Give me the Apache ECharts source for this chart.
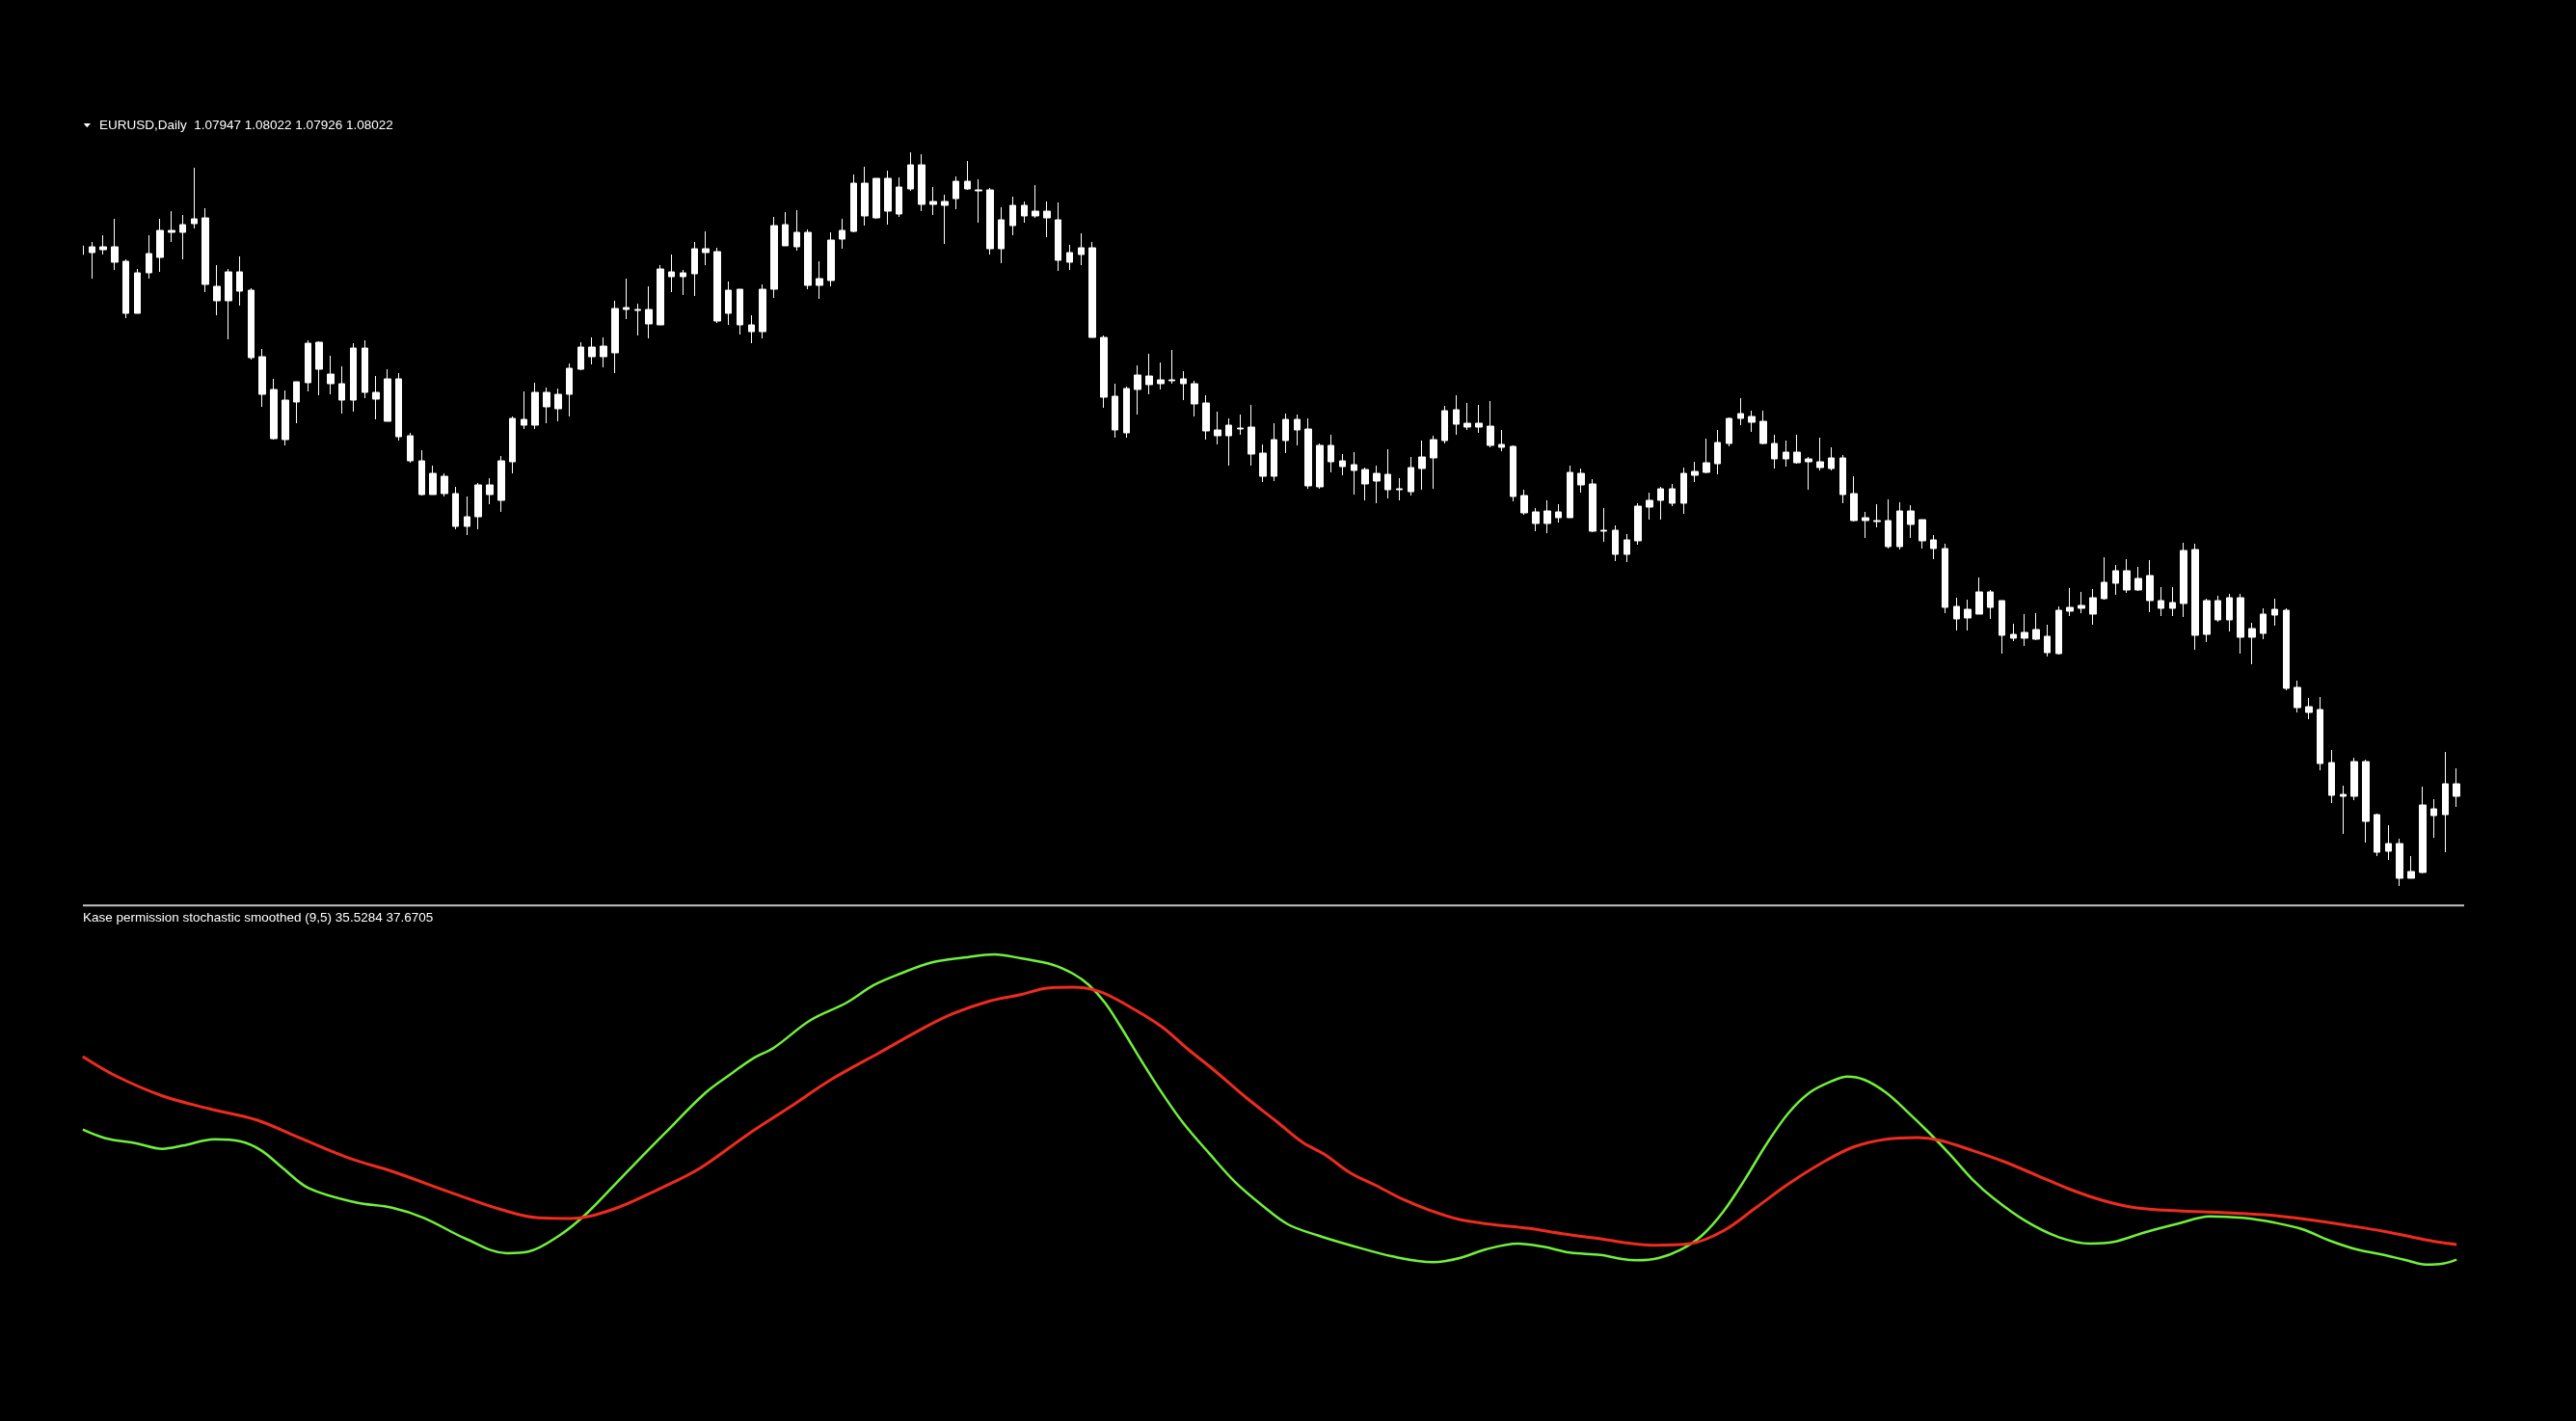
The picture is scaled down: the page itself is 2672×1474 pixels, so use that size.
<!DOCTYPE html>
<html>
<head>
<meta charset="utf-8">
<script src="https://cdn.jsdelivr.net/npm/echarts@6/dist/echarts.min.js"></script>
<style>
html,body{margin:0;padding:0;background:#000;}
#chart{width:2672px;height:1474px;}
</style>
</head>
<body>
<div id="chart"></div>
<script>
// ---- EURUSD Daily candles (all candles drawn white, so only body extent is known) ----
const bodyHigh = [
1.1360,1.1359,1.1359,1.1359,1.1344,1.1332,1.1352,1.1376,1.1376,1.1382,
1.1388,1.1389,1.1318,1.1333,1.1333,1.1314,1.1245,1.1211,1.1200,1.1219,
1.1259,1.1260,1.1227,1.1217,1.1254,1.1254,1.1208,1.1222,1.1222,1.1163,
1.1137,1.1124,1.1121,1.1103,1.1079,1.1112,1.1112,1.1137,1.1181,1.1180,
1.1208,1.1208,1.1206,1.1233,1.1255,1.1255,1.1256,1.1295,1.1296,1.1294,
1.1294,1.1336,1.1333,1.1332,1.1357,1.1357,1.1354,1.1314,1.1315,1.1278,
1.1315,1.1381,1.1382,1.1374,1.1374,1.1326,1.1366,1.1376,1.1425,1.1425,
1.1430,1.1430,1.1421,1.1444,1.1444,1.1406,1.1406,1.1427,1.1427,1.1418,
1.1418,1.1387,1.1402,1.1402,1.1396,1.1396,1.1387,1.1353,1.1358,1.1358,
1.1265,1.1204,1.1212,1.1226,1.1225,1.1221,1.1221,1.1222,1.1217,1.1197,
1.1169,1.1174,1.1171,1.1172,1.1145,1.1159,1.1180,1.1180,1.1170,1.1153,
1.1153,1.1137,1.1133,1.1128,1.1124,1.1123,1.1108,1.1130,1.1141,1.1159,
1.1189,1.1190,1.1176,1.1176,1.1173,1.1154,1.1152,1.1101,1.1084,1.1085,
1.1084,1.1125,1.1124,1.1113,1.1065,1.1065,1.1055,1.1090,1.1096,1.1108,
1.1108,1.1124,1.1126,1.1135,1.1156,1.1181,1.1186,1.1183,1.1178,1.1155,
1.1146,1.1146,1.1139,1.1136,1.1140,1.1140,1.1103,1.1078,1.1075,1.1075,
1.1085,1.1085,1.1076,1.1055,1.1046,1.0986,1.0983,1.1001,1.1001,1.0992,
1.0957,1.0959,1.0962,1.0955,1.0982,1.0985,1.0987,1.0995,1.1011,1.1023,
1.1023,1.1015,1.1018,1.0992,1.0990,1.1044,1.1045,1.0992,1.0992,1.0995,
1.0995,1.0963,1.0978,1.0983,1.0982,1.0902,1.0882,1.0879,1.0824,1.0791,
1.0825,1.0825,1.0770,1.0740,1.0740,1.0711,1.0780,1.0776,1.0802,1.0802
];
const bodyLow = [
1.1351,1.1353,1.1356,1.1343,1.1290,1.1290,1.1332,1.1348,1.1374,1.1374,
1.1383,1.1320,1.1303,1.1303,1.1313,1.1244,1.1206,1.1160,1.1159,1.1198,
1.1218,1.1232,1.1217,1.1200,1.1200,1.1208,1.1201,1.1178,1.1162,1.1137,
1.1102,1.1102,1.1103,1.1069,1.1069,1.1079,1.1102,1.1096,1.1136,1.1174,
1.1174,1.1193,1.1191,1.1206,1.1232,1.1245,1.1245,1.1249,1.1294,1.1293,
1.1279,1.1278,1.1328,1.1328,1.1331,1.1353,1.1282,1.1290,1.1278,1.1271,
1.1271,1.1315,1.1360,1.1359,1.1319,1.1319,1.1324,1.1367,1.1375,1.1391,
1.1389,1.1396,1.1393,1.1419,1.1403,1.1403,1.1402,1.1409,1.1419,1.1417,
1.1357,1.1357,1.1381,1.1391,1.1391,1.1389,1.1345,1.1343,1.1351,1.1265,
1.1203,1.1169,1.1166,1.1211,1.1216,1.1217,1.1220,1.1217,1.1196,1.1168,
1.1163,1.1163,1.1170,1.1144,1.1121,1.1121,1.1158,1.1169,1.1111,1.1110,
1.1136,1.1131,1.1127,1.1113,1.1116,1.1107,1.1107,1.1105,1.1129,1.1140,
1.1158,1.1175,1.1172,1.1172,1.1153,1.1151,1.1100,1.1083,1.1072,1.1072,
1.1078,1.1078,1.1112,1.1064,1.1064,1.1040,1.1040,1.1054,1.1089,1.1096,
1.1093,1.1093,1.1122,1.1125,1.1134,1.1155,1.1181,1.1177,1.1155,1.1139,
1.1139,1.1135,1.1136,1.1130,1.1129,1.1102,1.1075,1.1075,1.1074,1.1048,
1.1048,1.1071,1.1054,1.1046,1.0985,1.0973,1.0974,1.0978,1.0985,1.0956,
1.0953,1.0953,1.0952,1.0938,1.0937,1.0981,1.0984,1.0978,1.0994,1.1010,
1.1003,1.1003,1.0992,1.0984,1.0984,1.0989,1.0956,1.0957,1.0972,1.0972,
1.0954,1.0954,1.0958,1.0977,1.0901,1.0881,1.0876,1.0823,1.0790,1.0789,
1.0789,1.0763,1.0731,1.0732,1.0704,1.0704,1.0710,1.0769,1.0770,1.0789
];
const high = [
1.1360,1.1364,1.1371,1.1388,1.1346,1.1336,1.1371,1.1388,1.1396,1.1392,
1.1441,1.1399,1.1340,1.1336,1.1349,1.1316,1.1253,1.1222,1.1210,1.1219,
1.1262,1.1261,1.1246,1.1235,1.1259,1.1262,1.1225,1.1232,1.1228,1.1166,
1.1148,1.1132,1.1124,1.1110,1.1100,1.1114,1.1119,1.1142,1.1183,1.1209,
1.1218,1.1213,1.1212,1.1238,1.1260,1.1265,1.1265,1.1303,1.1326,1.1300,
1.1318,1.1340,1.1351,1.1335,1.1364,1.1375,1.1358,1.1323,1.1315,1.1288,
1.1320,1.1390,1.1395,1.1397,1.1377,1.1344,1.1374,1.1388,1.1434,1.1442,
1.1430,1.1438,1.1431,1.1457,1.1455,1.1421,1.1413,1.1432,1.1448,1.1429,
1.1420,1.1400,1.1411,1.1406,1.1423,1.1406,1.1405,1.1361,1.1373,1.1364,
1.1267,1.1217,1.1214,1.1236,1.1248,1.1239,1.1252,1.1230,1.1220,1.1205,
1.1188,1.1181,1.1185,1.1195,1.1154,1.1176,1.1186,1.1185,1.1181,1.1155,
1.1164,1.1144,1.1146,1.1130,1.1132,1.1149,1.1119,1.1141,1.1158,1.1163,
1.1194,1.1205,1.1197,1.1195,1.1199,1.1169,1.1153,1.1107,1.1088,1.1096,
1.1092,1.1132,1.1129,1.1118,1.1088,1.1070,1.1061,1.1093,1.1104,1.1110,
1.1113,1.1130,1.1136,1.1160,1.1169,1.1182,1.1202,1.1189,1.1189,1.1164,
1.1158,1.1164,1.1141,1.1161,1.1151,1.1143,1.1121,1.1084,1.1092,1.1097,
1.1094,1.1091,1.1076,1.1060,1.1051,1.0995,1.0993,1.1016,1.1003,1.0992,
1.0968,1.0978,1.0979,1.0967,1.0986,1.1005,1.1001,1.1004,1.1037,1.1029,
1.1035,1.1027,1.1034,1.1006,1.1006,1.1052,1.1051,1.0994,1.0997,1.0999,
1.0999,1.0969,1.0984,1.0994,1.0984,1.0909,1.0891,1.0892,1.0837,1.0800,
1.0829,1.0827,1.0771,1.0759,1.0745,1.0727,1.0799,1.0786,1.0835,1.0818
];
const low = [
1.1351,1.1326,1.1351,1.1335,1.1285,1.1290,1.1326,1.1333,1.1364,1.1346,
1.1378,1.1312,1.1288,1.1263,1.1298,1.1242,1.1193,1.1159,1.1153,1.1176,
1.1209,1.1205,1.1206,1.1186,1.1188,1.1202,1.1180,1.1178,1.1158,1.1135,
1.1101,1.1102,1.1100,1.1066,1.1060,1.1066,1.1092,1.1084,1.1124,1.1170,
1.1170,1.1176,1.1178,1.1183,1.1231,1.1237,1.1234,1.1228,1.1284,1.1267,
1.1264,1.1278,1.1312,1.1309,1.1308,1.1340,1.1280,1.1278,1.1268,1.1259,
1.1264,1.1306,1.1360,1.1355,1.1315,1.1305,1.1318,1.1357,1.1374,1.1381,
1.1388,1.1382,1.1390,1.1417,1.1396,1.1392,1.1362,1.1398,1.1418,1.1384,
1.1351,1.1342,1.1371,1.1384,1.1389,1.1369,1.1334,1.1335,1.1340,1.1265,
1.1192,1.1161,1.1161,1.1185,1.1206,1.1211,1.1217,1.1200,1.1183,1.1159,
1.1154,1.1132,1.1164,1.1132,1.1115,1.1116,1.1145,1.1153,1.1108,1.1108,
1.1125,1.1122,1.1102,1.1096,1.1093,1.1098,1.1096,1.1101,1.1107,1.1108,
1.1155,1.1164,1.1169,1.1166,1.1151,1.1147,1.1095,1.1081,1.1064,1.1062,
1.1073,1.1078,1.1104,1.1063,1.1053,1.1033,1.1032,1.1050,1.1076,1.1076,
1.1090,1.1082,1.1115,1.1124,1.1123,1.1152,1.1174,1.1167,1.1154,1.1129,
1.1131,1.1134,1.1107,1.1127,1.1127,1.1093,1.1074,1.1057,1.1068,1.1046,
1.1045,1.1057,1.1046,1.1035,1.0979,1.0961,1.0961,1.0978,1.0973,1.0937,
1.0950,1.0945,1.0951,1.0934,1.0936,1.0976,1.0979,1.0967,1.0993,1.0998,
1.1000,1.1002,1.0980,1.0976,1.0976,1.0975,1.0941,1.0949,1.0970,1.0960,
1.0937,1.0926,1.0952,1.0966,1.0899,1.0876,1.0869,1.0816,1.0782,1.0750,
1.0785,1.0741,1.0727,1.0723,1.0696,1.0704,1.0709,1.0746,1.0731,1.0778
];

// ---- Kase permission stochastic smoothed (9,5): bar positions and values ----
const greenBars = [1.2,3.2,5.9,8.2,10.0,12.8,15.1,16.9,18.8,21.1,25.2,28.4,31.2,34.9,38.5,40.4,43.1,45.4,48.7,52.3,56.0,58.3,60.1,62.0,65.2,68.4,70.8,73.1,75.9,78.7,81.4,83.7,86.5,88.3,89.7,91.1,92.4,94.3,96.1,98.0,100.3,102.6,104.9,107.2,109.9,112.7,116.4,120.0,122.3,124.6,127.4,129.7,132.0,134.7,136.6,137.9,139.8,141.7,143.6,145.5,147.4,149.3,151.2,153.1,155.0,156.4,157.9,159.8,161.7,163.6,165.5,167.4,169.3,172.1,175.0,177.8,179.8,182.6,185.5,188.3,191.2,194.0,196.4,198.8,201.2,203.6,205.4,207.3,208.8,210.0];
const greenValues = [53.93,52.70,51.98,51.20,51.66,52.56,52.25,50.98,48.47,45.61,43.62,42.88,41.43,38.47,36.43,36.66,38.92,41.88,47.34,53.25,59.17,61.90,63.94,65.53,69.40,71.90,74.39,75.99,77.59,78.27,78.72,78.17,77.26,75.99,74.39,71.90,68.72,63.71,59.17,54.84,50.52,46.43,43.25,40.52,38.92,37.56,35.98,35.16,35.74,36.97,37.79,37.34,36.52,36.19,35.61,35.43,35.74,36.88,38.92,42.33,46.89,51.88,56.21,59.17,60.75,61.43,60.98,59.17,56.44,53.48,50.30,46.89,44.16,40.97,38.70,37.79,38.02,39.39,40.61,41.65,41.43,40.75,39.84,38.24,36.97,36.19,35.51,34.83,34.97,35.53];
const redBars = [1.2,4.1,8.2,12.3,16.5,20.2,24.7,28.4,33.9,38.1,41.3,44.1,47.7,51.9,55.5,59.7,63.4,67.0,71.3,75.0,77.7,81.0,83.7,86.0,88.3,90.6,92.9,96.1,98.4,100.7,103.5,106.2,108.5,110.4,112.7,115.0,117.3,119.6,122.3,125.1,128.3,131.5,134.7,137.5,139.3,142.6,145.5,148.3,151.2,154.1,156.9,159.8,162.6,164.5,167.4,170.2,173.1,175.9,178.8,181.7,185.5,189.3,193.1,196.9,200.7,203.6,206.4,208.3,210.0];
const redValues = [64.26,61.53,58.70,56.89,55.29,52.80,49.84,48.02,44.84,42.56,41.43,41.34,42.56,45.53,48.47,53.25,57.12,60.98,64.84,68.17,70.30,72.13,73.03,73.94,74.08,73.49,71.66,68.49,65.31,62.35,58.49,55.08,52.11,50.44,47.79,45.98,44.07,42.56,41.20,40.52,39.97,39.15,38.47,37.79,37.56,37.79,39.60,42.80,46.21,49.15,51.43,52.56,52.80,52.43,50.98,49.39,47.44,45.53,43.93,42.88,42.43,42.20,41.88,41.20,40.29,39.52,38.61,38.02,37.67];

const titleText = 'EURUSD,Daily  1.07947 1.08022 1.07926 1.08022';
const indicatorText = 'Kase permission stochastic smoothed (9,5) 35.5284 37.6705';

const barIdx = bodyHigh.map((_, i) => String(i + 1));
const candleData = bodyHigh.map((_, i) => [bodyLow[i], bodyHigh[i], low[i], high[i]]);
const greenData = greenBars.map((b, i) => [b, greenValues[i]]);
const redData = redBars.map((b, i) => [b, redValues[i]]);

const chart = echarts.init(document.getElementById('chart'), null, {renderer: 'canvas'});
const font = '13.5px "Liberation Sans", Arial, sans-serif';
chart.setOption({
  backgroundColor: '#000',
  animation: false,
  grid: [
    {left: 77.6, width: 2476.5, top: 150, height: 785},
    {left: 77.6, width: 2476.5, top: 960, height: 380}
  ],
  xAxis: [
    {type: 'category', gridIndex: 0, data: barIdx, show: false, boundaryGap: true},
    {type: 'value', gridIndex: 1, min: 0.5, max: 210.5, show: false}
  ],
  yAxis: [
    {type: 'value', gridIndex: 0, min: 1.0680, max: 1.1465, show: false},
    {type: 'value', gridIndex: 1, min: 30.97, max: 82.81, show: false}
  ],
  series: [
    {
      type: 'candlestick', xAxisIndex: 0, yAxisIndex: 0,
      data: candleData, barWidth: 7,
      itemStyle: {color: '#ffffff', color0: '#ffffff', borderColor: '#ffffff', borderColor0: '#ffffff', borderWidth: 1}
    },
    {
      type: 'line', xAxisIndex: 1, yAxisIndex: 1, data: greenData,
      smooth: 0.35, showSymbol: false, lineStyle: {color: '#72f03c', width: 2.5}
    },
    {
      type: 'line', xAxisIndex: 1, yAxisIndex: 1, data: redData,
      smooth: 0.35, showSymbol: false, lineStyle: {color: '#ee2b1f', width: 3}
    }
  ],
  graphic: [
    {type: 'rect', z: 100, shape: {x: 0, y: 140, width: 86, height: 796}, style: {fill: '#000'}},
    {type: 'polygon', z: 101, shape: {points: [[86.7, 128], [94, 128], [90.3, 132.3]]}, style: {fill: '#ffffff'}},
    {type: 'text', z: 101, x: 103, y: 130.5, style: {text: titleText, fill: '#ffffff', font: font, verticalAlign: 'middle'}},
    {type: 'line', z: 101, shape: {x1: 86, y1: 939.3, x2: 2556, y2: 939.3}, style: {stroke: '#c4c4c4', lineWidth: 2}},
    {type: 'text', z: 101, x: 86, y: 952.5, style: {text: indicatorText, fill: '#ffffff', font: font, verticalAlign: 'middle'}}
  ]
});
</script>
</body>
</html>
